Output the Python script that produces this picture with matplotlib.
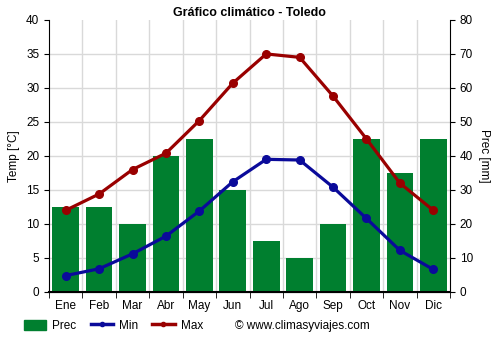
import numpy as np
import matplotlib
matplotlib.use('Agg')
import matplotlib.pyplot as plt
from matplotlib.patches import Patch
from matplotlib.lines import Line2D

# data
months = ['Ene', 'Feb', 'Mar', 'Abr', 'May', 'Jun', 'Jul', 'Ago', 'Sep', 'Oct', 'Nov', 'Dic']
prec = [25, 25, 20, 40, 45, 30, 15, 10, 20, 45, 35, 45]
tmin = [2.4, 3.4, 5.6, 8.2, 11.9, 16.2, 19.5, 19.4, 15.4, 10.8, 6.1, 3.3]
tmax = [12.0, 14.4, 18.0, 20.4, 25.2, 30.7, 35.0, 34.5, 28.8, 22.5, 16.0, 12.0]

plt.rcParams['font.family'] = ['Liberation Sans', 'DejaVu Sans']
plt.rcParams['font.size'] = 8.5

green = '#007f2f'
blue = '#0a0a9a'
red = '#990000'

fig = plt.figure(figsize=(5, 3.5), dpi=100)
ax = fig.add_axes([0.098, 0.166, 0.802, 0.777])
ax2 = ax.twinx()

x = np.arange(len(months))

# bars on the right axis (mm)
ax2.bar(x, prec, width=0.8, color=green, zorder=1)
ax2.set_ylim(0, 80)
ax2.set_yticks(range(0, 81, 10))
ax2.set_ylabel('Prec [mm]', rotation=270, labelpad=12)

# lines drawn on top
ax.set_zorder(ax2.get_zorder() + 1)
ax.patch.set_visible(False)
ax.plot(x, tmin, color=blue, lw=2.3, marker='o', ms=5.5, zorder=3)
ax.plot(x, tmax, color=red, lw=2.3, marker='o', ms=5.5, zorder=3)
ax.set_ylim(0, 40)
ax.set_yticks(range(0, 41, 5))
ax.set_ylabel('Temp [°C]')
ax.set_xlim(-0.38, 11.38)
ax.set_xticks(x)
ax.set_xticklabels(months)
ax.set_xticks(np.arange(-0.5, 12, 1), minor=True)
ax.tick_params(axis='x', which='major', length=0, pad=6)
ax.tick_params(axis='x', which='minor', length=4)

# grid on the back axis so it sits under the bars
for v in np.arange(0.5, 11, 1):
    ax2.axvline(v, color='#d9d9d9', lw=1, zorder=0)
for v in range(5, 40, 5):
    ax2.axhline(v * 2, color='#d9d9d9', lw=1, zorder=0)

for a in (ax, ax2):
    a.spines['top'].set_visible(False)
    a.spines['left'].set_visible(False)
    a.spines['right'].set_visible(False)
ax.spines['left'].set_visible(True)
ax2.spines['right'].set_visible(True)
ax.spines['bottom'].set_linewidth(1.5)

ax.set_title('Gráfico climático - Toledo', fontsize=9, fontweight='bold', pad=3)

handles = [Patch(color=green),
           Line2D([0], [0], color=blue, lw=2.5, marker='o', ms=3),
           Line2D([0], [0], color=red, lw=2.5, marker='o', ms=3)]
fig.legend(handles, ['Prec', 'Min', 'Max'], loc='center left', bbox_to_anchor=(0.048, 0.069),
           ncol=3, frameon=False, handlelength=1.9, handleheight=1.0, handletextpad=0.5,
           columnspacing=1.2, borderpad=0, borderaxespad=0, fontsize=8.5)
fig.text(0.47, 0.069, '© www.climasyviajes.com', fontsize=8.5, va='center')

fig.savefig('out.png', dpi=100)
